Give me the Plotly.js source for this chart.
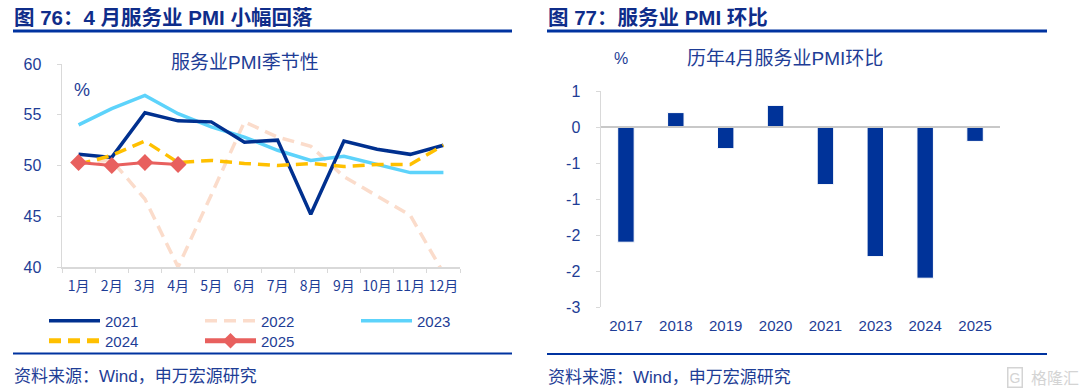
<!DOCTYPE html>
<html>
<head>
<meta charset="utf-8">
<script src="https://cdn.plot.ly/plotly-3.0.1.min.js"></script>
<style>html,body{margin:0;padding:0;background:#fff;}#chart{width:1080px;height:392px;}</style>
</head>
<body>
<div id="chart"></div>
<script>
// ---------- data ----------
const months = ["1月","2月","3月","4月","5月","6月","7月","8月","9月","10月","11月","12月"];
const pmi2021 = [51.1, 50.8, 55.2, 54.4, 54.3, 52.3, 52.5, 45.2, 52.4, 51.6, 51.1, 52.0];
const pmi2022 = [50.3, 50.5, 46.7, 40.0, 47.1, 54.3, 52.8, 51.9, 48.9, 47.0, 45.1, 39.4];
const pmi2023 = [54.0, 55.6, 56.9, 55.1, 53.8, 52.8, 51.5, 50.5, 50.9, 50.1, 49.3, 49.3];
const pmi2024 = [50.1, 51.0, 52.4, 50.3, 50.5, 50.2, 50.0, 50.2, 49.9, 50.1, 50.1, 52.0];
const pmi2025 = [50.3, 50.0, 50.3, 50.1];

const years = ["2017","2018","2019","2020","2021","2023","2024","2025"];
const aprChange = [-1.6, 0.2, -0.3, 0.3, -0.8, -1.8, -2.1, -0.2];
const yTickVals = [0.5, 0, -0.5, -1, -1.5, -2, -2.5];
const yTickLabels = ["1","0","-1","-1","-2","-2","-3"];
const leftYTicks = [40, 45, 50, 55, 60];

// ---------- style ----------
const W = 1080, H = 392;
const px = x => x / W;
const py = y => 1 - y / H;
const TXT = '#1e3d96';
const TTL = '#0f2d8a';
const AX = '#d9d9d9';
const FONT = 'Liberation Sans, Arial, Noto Sans CJK SC, sans-serif';
const CJK = 'Noto Sans CJK SC, Liberation Sans, sans-serif';

const traces = [
  {x: months, y: pmi2022, name: '2022', type: 'scatter', mode: 'lines', legend: 'legend', legendrank: 2,
   line: {color: '#fbdccb', width: 3.5, dash: '12px,7px'}, xaxis: 'x', yaxis: 'y'},
  {x: months, y: pmi2023, name: '2023', type: 'scatter', mode: 'lines', legend: 'legend', legendrank: 3,
   line: {color: '#5dd3fb', width: 3.5}, xaxis: 'x', yaxis: 'y'},
  {x: months, y: pmi2021, name: '2021', type: 'scatter', mode: 'lines', legend: 'legend', legendrank: 1,
   line: {color: '#00308f', width: 3.5}, xaxis: 'x', yaxis: 'y'},
  {x: months, y: pmi2024, name: '2024', type: 'scatter', mode: 'lines', legend: 'legend2', legendrank: 4,
   line: {color: '#ffc000', width: 3.5, dash: '12px,7px'}, xaxis: 'x', yaxis: 'y'},
  {x: months.slice(0, pmi2025.length), y: pmi2025, name: '2025', type: 'scatter', mode: 'lines+markers',
   legend: 'legend2', legendrank: 5,
   line: {color: '#e8605e', width: 3}, marker: {symbol: 'diamond', size: 13, color: '#e8605e'},
   xaxis: 'x', yaxis: 'y'},
  {x: years, y: aprChange, type: 'bar', name: '环比', showlegend: false, width: 0.33,
   marker: {color: '#003399', line: {color: '#ffffff', width: 1}}, xaxis: 'x2', yaxis: 'y2'}
];

const y2Dom = [py(307), py(91)];
const x2Dom = [px(601), px(1000)];

const layout = {
  width: W, height: H,
  margin: {l: 0, r: 0, t: 0, b: 0},
  paper_bgcolor: '#fff', plot_bgcolor: '#fff',
  font: {family: FONT, color: TXT, size: 15},
  xaxis: {domain: [px(62), px(460)], type: 'category', range: [-0.5, 11.5], anchor: 'y',
    showline: true, linecolor: AX, linewidth: 1.5, ticks: 'outside', tickson: 'boundaries', ticklen: 4,
    tickcolor: AX, showgrid: false, zeroline: false, ticklabelstandoff: 6, tickangle: 0,
    tickfont: {family: CJK, size: 14, color: TXT}, fixedrange: true},
  yaxis: {domain: [py(267), py(64)], range: [40, 60], tickvals: leftYTicks, anchor: 'x',
    showline: true, linecolor: AX, linewidth: 1.5, ticks: 'outside', ticklen: 4, tickcolor: AX,
    showgrid: false, zeroline: false, ticklabelstandoff: 12,
    tickfont: {size: 16, color: TXT}, fixedrange: true},
  xaxis2: {domain: x2Dom, type: 'category', range: [-0.5, 7.5], anchor: 'y2',
    showline: false, ticks: '', showgrid: false, zeroline: false, ticklabelstandoff: 8,
    tickfont: {size: 15, color: TXT}, fixedrange: true},
  yaxis2: {domain: y2Dom, range: [-2.5, 0.5], tickvals: yTickVals, ticktext: yTickLabels, anchor: 'x2',
    showline: true, linecolor: AX, linewidth: 1.5, ticks: 'outside', ticklen: 4, tickcolor: AX,
    showgrid: false, zeroline: false, ticklabelstandoff: 12,
    tickfont: {size: 16, color: TXT}, fixedrange: true},
  legend: {orientation: 'h', x: px(44), y: py(321), xanchor: 'left', yanchor: 'middle',
    itemwidth: 51, entrywidth: 90, entrywidthmode: 'pixels', font: {size: 15, color: TXT},
    bgcolor: 'rgba(0,0,0,0)', tracegroupgap: 0, itemclick: false, itemdoubleclick: false},
  legend2: {orientation: 'h', x: px(44), y: py(341), xanchor: 'left', yanchor: 'middle',
    itemwidth: 51, entrywidth: 90, entrywidthmode: 'pixels', font: {size: 15, color: TXT},
    bgcolor: 'rgba(0,0,0,0)', itemsizing: 'constant', itemclick: false, itemdoubleclick: false},
  shapes: [
    {type: 'line', xref: 'paper', yref: 'paper', x0: px(13), x1: px(512), y0: py(31), y1: py(31),
     line: {color: '#0033a0', width: 3}},
    {type: 'line', xref: 'paper', yref: 'paper', x0: px(547), x1: px(1047), y0: py(31), y1: py(31),
     line: {color: '#0033a0', width: 3}},
    {type: 'line', xref: 'paper', yref: 'paper', x0: px(13), x1: px(512), y0: py(353.5), y1: py(353.5),
     line: {color: '#0033a0', width: 2}},
    {type: 'line', xref: 'paper', yref: 'paper', x0: px(547), x1: px(1047), y0: py(354), y1: py(354),
     line: {color: '#0033a0', width: 2}},
    // zero axis line of the bar chart (paper coords computed from the y2 range)
    {type: 'line', xref: 'paper', yref: 'paper', x0: x2Dom[0], x1: x2Dom[1],
     y0: y2Dom[0] + (0 + 2.5) / 3 * (y2Dom[1] - y2Dom[0]),
     y1: y2Dom[0] + (0 + 2.5) / 3 * (y2Dom[1] - y2Dom[0]),
     layer: 'above', line: {color: '#c8c8c8', width: 2}}
  ],
  annotations: [
    {text: '<b>图 76：4 月服务业 PMI 小幅回落</b>', xref: 'paper', yref: 'paper', x: px(12), y: py(17),
     xanchor: 'left', yanchor: 'middle', showarrow: false, font: {family: FONT, size: 20.5, color: TTL}},
    {text: '<b>图 77：服务业 PMI 环比</b>', xref: 'paper', yref: 'paper', x: px(546), y: py(17),
     xanchor: 'left', yanchor: 'middle', showarrow: false, font: {family: FONT, size: 20.5, color: TTL}},
    {text: '服务业PMI季节性', xref: 'paper', yref: 'paper', x: px(245), y: py(63),
     xanchor: 'center', yanchor: 'middle', showarrow: false, font: {family: FONT, size: 19, color: TXT}},
    {text: '%', xref: 'paper', yref: 'paper', x: px(82), y: py(90),
     xanchor: 'center', yanchor: 'middle', showarrow: false, font: {family: FONT, size: 18, color: TXT}},
    {text: '历年4月服务业PMI环比', xref: 'paper', yref: 'paper', x: px(785), y: py(58),
     xanchor: 'center', yanchor: 'middle', showarrow: false, font: {family: FONT, size: 19, color: TXT}},
    {text: '%', xref: 'paper', yref: 'paper', x: px(621), y: py(58),
     xanchor: 'center', yanchor: 'middle', showarrow: false, font: {family: FONT, size: 16, color: TXT}},
    {text: '资料来源：Wind，申万宏源研究', xref: 'paper', yref: 'paper', x: px(12), y: py(376),
     xanchor: 'left', yanchor: 'middle', showarrow: false, font: {family: FONT, size: 17, color: TXT}},
    {text: '资料来源：Wind，申万宏源研究', xref: 'paper', yref: 'paper', x: px(546), y: py(377),
     xanchor: 'left', yanchor: 'middle', showarrow: false, font: {family: FONT, size: 17, color: TXT}},
    {text: 'G', xref: 'paper', yref: 'paper', x: px(1015), y: py(377),
     xanchor: 'center', yanchor: 'middle', showarrow: false, bordercolor: '#d4d4d4', borderwidth: 1.5,
     borderpad: 1, font: {family: FONT, size: 14, color: '#d4d4d4'}},
    {text: '格隆汇', xref: 'paper', yref: 'paper', x: px(1029), y: py(377),
     xanchor: 'left', yanchor: 'middle', showarrow: false, font: {family: CJK, size: 16, color: '#d4d4d4'}}
  ],
  showlegend: true
};

Plotly.newPlot('chart', traces, layout, {displayModeBar: false, staticPlot: true});
</script>
</body>
</html>
